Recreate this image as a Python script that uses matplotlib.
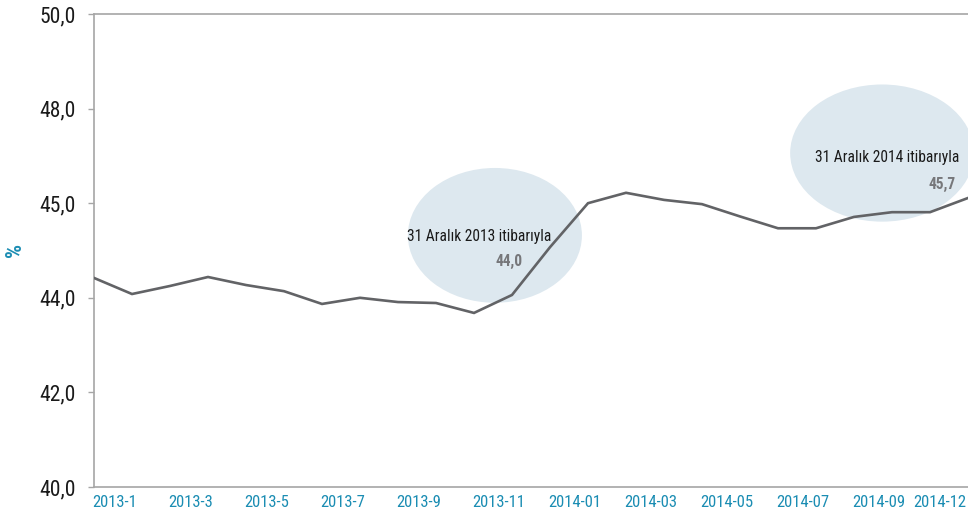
import matplotlib
matplotlib.use("Agg")
import matplotlib.pyplot as plt
import matplotlib.transforms as mtransforms
from matplotlib.patches import Ellipse
from matplotlib import font_manager

# ---- pick a condensed / narrow sans font if one is installed ----
_cond = []
for f in font_manager.fontManager.ttflist:
    st = str(f.stretch)
    fn = f.fname.lower()
    if ("narrow" in f.name.lower() or "condensed" in f.name.lower() or "condensed" in fn
            or "narrow" in fn or st in ("condensed", "semi-condensed", "extra-condensed", "500", "600")):
        if f.style == "normal" and "semi" not in fn and "extra" not in fn:
            _cond.append(f)
_pref = ["Liberation Sans Narrow", "Roboto Condensed", "Open Sans Condensed", "Noto Sans",
         "Open Sans", "Roboto", "DejaVu Sans", "Noto Sans Display"]
chosen = None
for p in _pref:
    for f in _cond:
        if f.name == p and f.weight in (400, "normal", "regular"):
            chosen = f
            break
    if chosen:
        break
if chosen is None and _cond:
    chosen = _cond[0]

if chosen is not None:
    plt.rcParams["font.family"] = [chosen.name, "DejaVu Sans"]
    plt.rcParams["font.stretch"] = chosen.stretch
    SCALE = 1.0
else:
    plt.rcParams["font.family"] = ["DejaVu Sans"]
    SCALE = 0.8

months = ["2013-1", "2013-2", "2013-3", "2013-4", "2013-5", "2013-6", "2013-7", "2013-8",
          "2013-9", "2013-10", "2013-11", "2013-12", "2014-01", "2014-02", "2014-03", "2014-04",
          "2014-05", "2014-06", "2014-07", "2014-08", "2014-09", "2014-10", "2014-11", "2014-12"]
values = [44.42, 44.08, 44.25, 44.44, 44.27, 44.14, 43.87, 44.00,
          43.91, 43.89, 43.68, 44.06, 45.07, 46.00, 46.22, 46.07,
          45.98, 45.72, 45.47, 45.47, 45.71, 45.81, 45.81, 46.11]
xtick_pos = [0, 2, 4, 6, 8, 10, 12, 14, 16, 18, 20, 22]
xtick_labels = ["2013-1", "2013-3", "2013-5", "2013-7", "2013-9", "2013-11",
                "2014-01", "2014-03", "2014-05", "2014-07", "2014-09", "2014-12"]
ytick_pos = [40, 42, 44, 46, 48, 50]
ytick_labels = ["40,0", "42,0", "44,0", "45,0", "48,0", "50,0"]
ann_texts = ["31 Aralık 2013 itibarıyla", "31 Aralık 2014 itibarıyla"]
ann_values = ["44,0", "45,7"]

fig = plt.figure(figsize=(9.68, 5.18), dpi=100)
ax = fig.add_axes([94 / 968, 1 - 487 / 518, 1 - 94 / 968, (487 - 14) / 518])

x = list(range(len(values)))

# highlight ellipses
ax.add_patch(Ellipse((10.55, 45.32), 4.58, 2.85, facecolor="#dde8ef", edgecolor="none", zorder=1))
ax.add_patch(Ellipse((20.74, 47.06), 4.84, 2.90, facecolor="#dde8ef", edgecolor="none", zorder=1))

ax.plot(x, values, color="#626366", lw=1.9, zorder=3, solid_joinstyle="miter")

afs = 11.2 * SCALE
ax.text(10.13, 45.29, ann_texts[0], fontsize=afs, ha="center", va="center", color="#1a1a1a", zorder=4)
ax.text(10.92, 44.76, ann_values[0], fontsize=afs, ha="center", va="center", color="#76777a",
        fontweight="bold", zorder=4)
ax.text(20.87, 46.97, ann_texts[1], fontsize=afs, ha="center", va="center", color="#1a1a1a", zorder=4)
ax.text(22.32, 46.39, ann_values[1], fontsize=afs, ha="center", va="center", color="#76777a",
        fontweight="bold", zorder=4)

ax.set_xlim(0, 23)
ax.set_ylim(40, 50)
ax.set_yticks(ytick_pos)
ax.set_yticklabels(ytick_labels, fontsize=15.5 * SCALE, color="#1a1a1a")
ax.set_xticks(xtick_pos)
ax.set_xticklabels(xtick_labels, fontsize=12 * SCALE, color="#1b8db3", ha="left")
ax.tick_params(axis="x", length=0, pad=6)
ax.tick_params(axis="y", length=4, width=1, color="#a6a6a6", pad=9)
for side in ["left", "bottom", "top"]:
    ax.spines[side].set_color("#a6a6a6")
    ax.spines[side].set_linewidth(1.2)
ax.spines["right"].set_visible(False)

# shift x labels slightly left; keep the last one inside the picture
offset = mtransforms.ScaledTranslation(-2 / 100, 0, fig.dpi_scale_trans)
xl = ax.get_xticklabels()
for lbl in xl:
    lbl.set_transform(lbl.get_transform() + offset)
xl[-1].set_horizontalalignment("right")
xl[-1].set_transform(xl[-1].get_transform() + mtransforms.ScaledTranslation(38 / 100, 0, fig.dpi_scale_trans))

fig.text(15 / 968, 1 - 250 / 518, "%", rotation=90, fontsize=16 * SCALE, color="#1b8db3",
         fontweight="bold", ha="center", va="center")

fig.savefig("out.png", dpi=100)
